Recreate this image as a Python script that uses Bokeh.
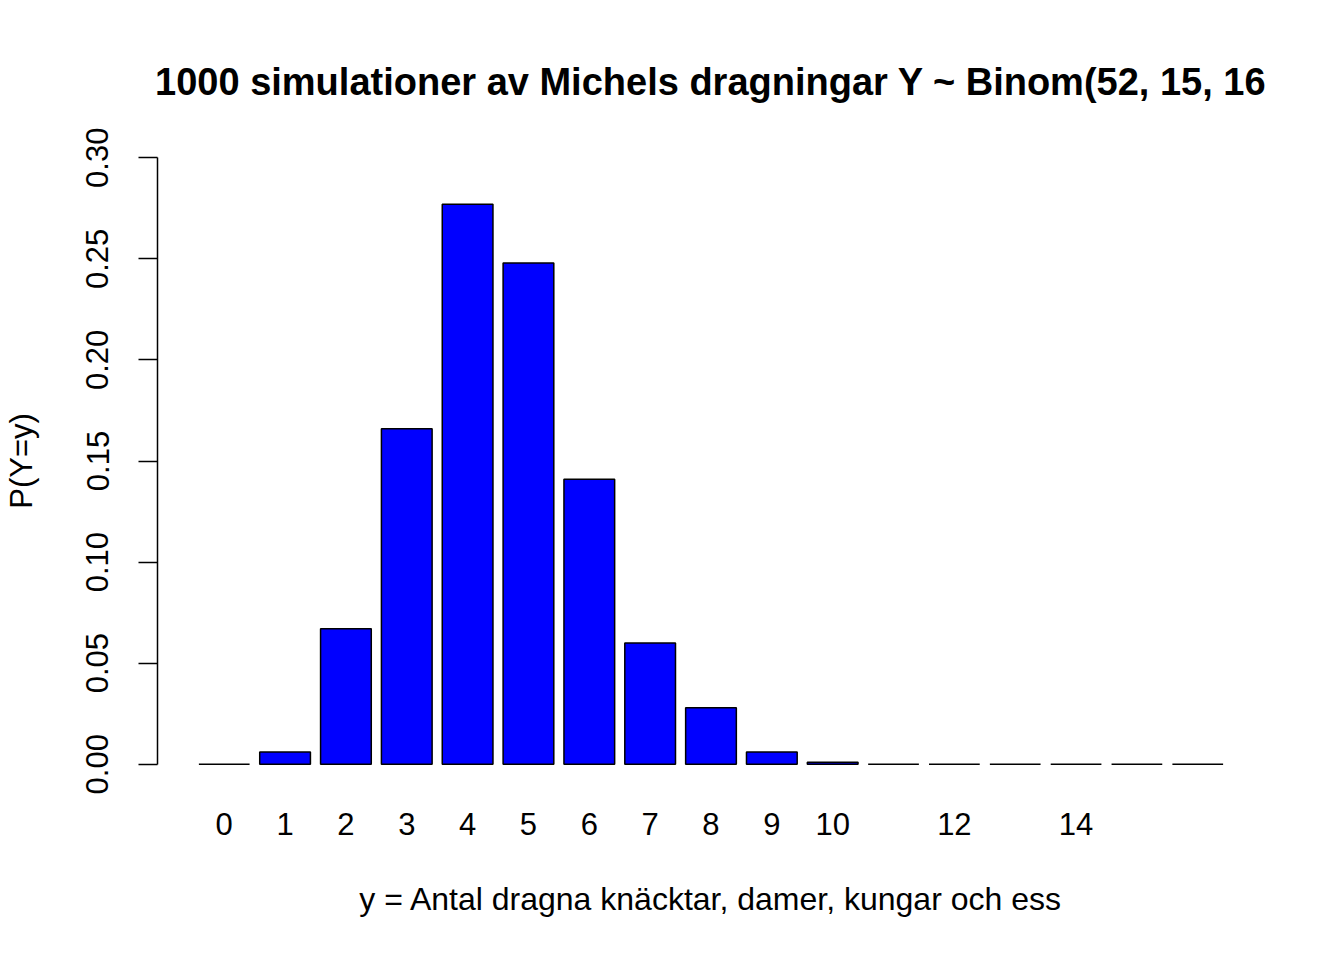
from bokeh.plotting import figure
from bokeh.models import Range1d, FixedTicker, NumeralTickFormatter
from bokeh.embed import file_html
from bokeh.resources import INLINE

# Data
y_values = list(range(17))
probs = [0.0, 0.006, 0.067, 0.166, 0.277, 0.248, 0.141, 0.060, 0.028,
         0.006, 0.001, 0.0, 0.0, 0.0, 0.0, 0.0, 0.0]
x_ticks = [0, 1, 2, 3, 4, 5, 6, 7, 8, 9, 10, 12, 14]
y_ticks = [0.0, 0.05, 0.10, 0.15, 0.20, 0.25, 0.30]

title = "1000 simulationer av Michels dragningar Y ~ Binom(52, 15, 16"
xlab = "y = Antal dragna knäcktar, damer, kungar och ess"
ylab = "P(Y=y)"

FONT = "Liberation Sans"

p = figure(width=1328, height=944,
           x_range=Range1d(-1.0967, 17.097), y_range=Range1d(-0.012, 0.312),
           output_backend="svg", toolbar_location=None,
           min_border_left=157, min_border_right=64,
           min_border_top=133, min_border_bottom=156,
           title=title)

p.vbar(x=y_values, top=probs, width=1 / 1.2, bottom=0,
       fill_color="#0000ff", line_color="black", line_width=1.5)

p.title.text_font = FONT
p.title.text_font_size = "38px"
p.title.text_font_style = "bold"
p.title.text_color = "black"
p.title.align = "center"
p.title.standoff = 61

p.grid.visible = False
p.outline_line_color = None
p.background_fill_color = "white"
p.border_fill_color = "white"

xa = p.xaxis[0]
xa.ticker = FixedTicker(ticks=x_ticks)
xa.axis_line_color = None
xa.major_tick_line_color = None
xa.minor_tick_line_color = None
xa.major_label_text_font = FONT
xa.major_label_text_font_size = "31px"
xa.major_label_text_color = "black"
xa.major_label_standoff = 18
xa.axis_label = xlab
xa.axis_label_text_font = FONT
xa.axis_label_text_font_size = "32px"
xa.axis_label_text_font_style = "normal"
xa.axis_label_text_color = "black"
xa.axis_label_standoff = 43

ya = p.yaxis[0]
ya.ticker = FixedTicker(ticks=y_ticks)
ya.formatter = NumeralTickFormatter(format="0.00")
ya.bounds = (0, 0.3)
ya.axis_line_width = 1.5
ya.axis_line_color = "black"
ya.major_tick_line_width = 1.5
ya.major_tick_line_color = "black"
ya.major_tick_out = 19
ya.major_tick_in = 0
ya.minor_tick_line_color = None
ya.major_label_orientation = "vertical"
ya.major_label_text_font = FONT
ya.major_label_text_font_size = "31px"
ya.major_label_text_color = "black"
ya.major_label_standoff = 30
ya.axis_label = ylab
ya.axis_label_text_font = FONT
ya.axis_label_text_font_size = "31px"
ya.axis_label_text_font_style = "normal"
ya.axis_label_text_color = "black"
ya.axis_label_standoff = 45

open("out.html", "w").write(file_html(p, INLINE))
